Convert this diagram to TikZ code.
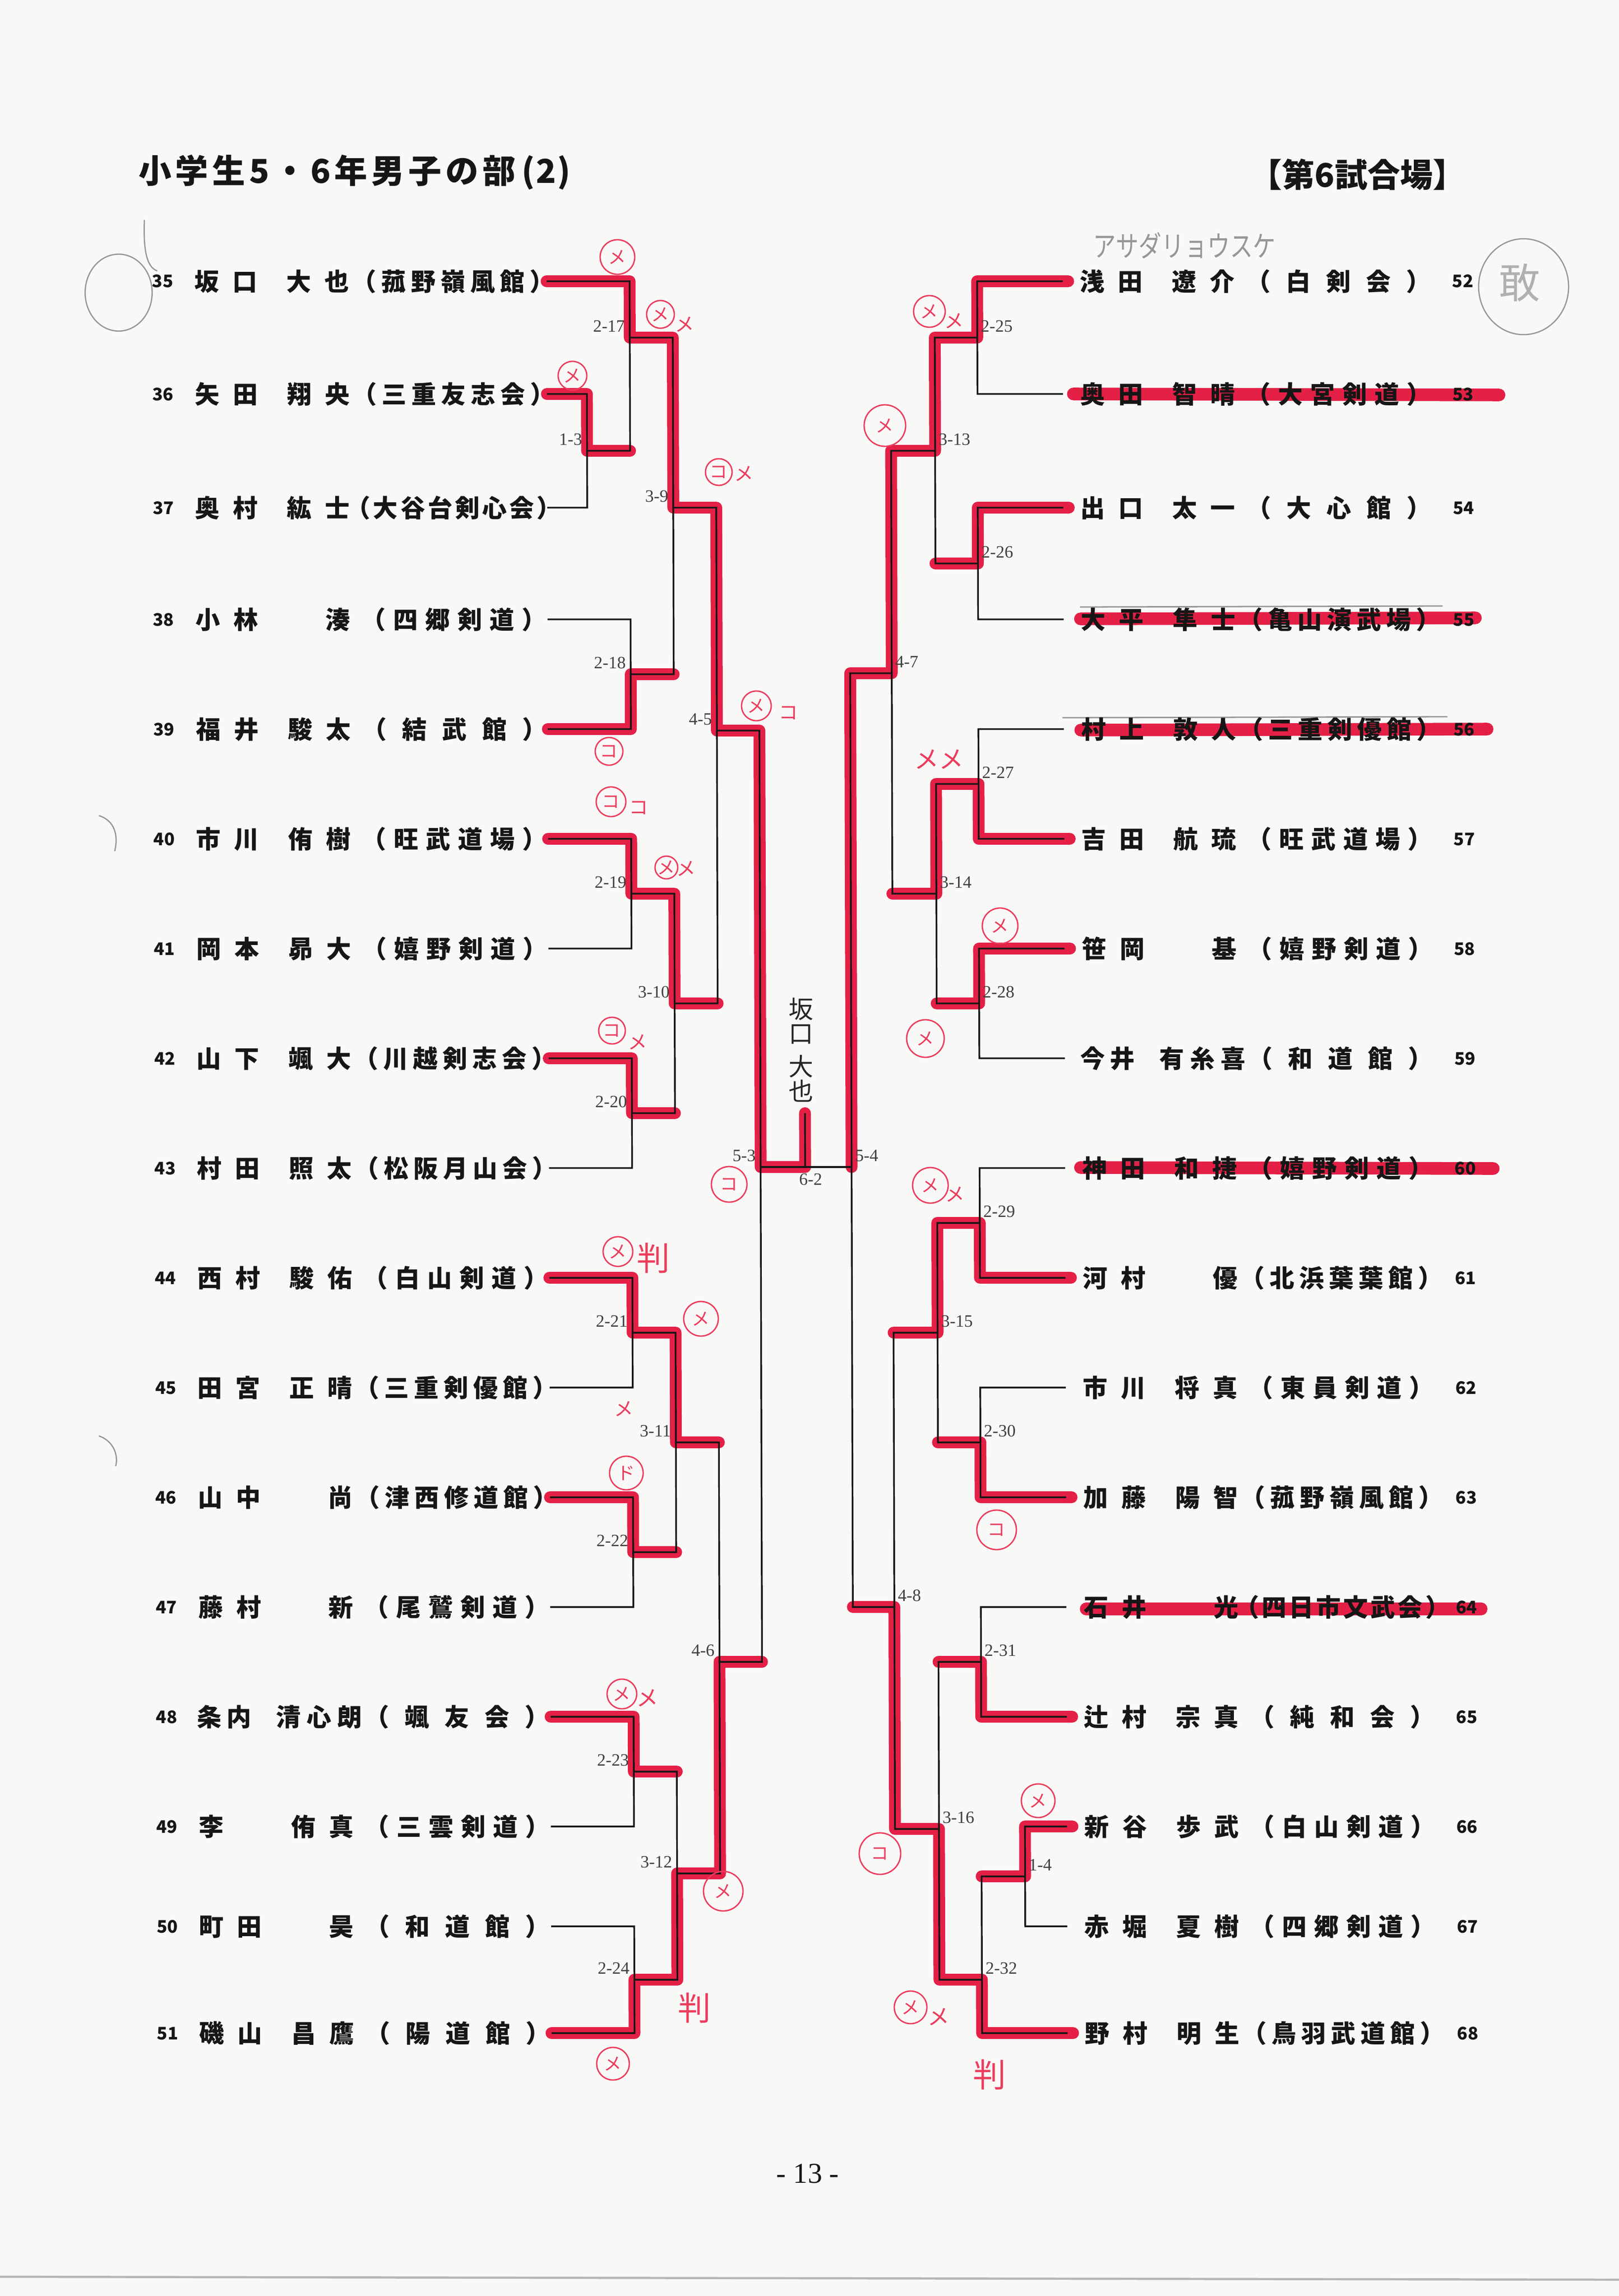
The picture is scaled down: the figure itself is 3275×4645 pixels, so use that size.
\documentclass[tikz,border=0pt]{standalone}
\usepackage{fontspec}
\setmainfont{Liberation Serif}
\newfontfamily\jp{Noto Sans CJK JP}
\newfontfamily\lser{Liberation Serif}
\usetikzlibrary{shapes.geometric}
\definecolor{paper}{RGB}{248,248,247}
\definecolor{marker}{RGB}{228,32,70}
\definecolor{pen}{RGB}{236,60,92}
\definecolor{pencil}{RGB}{150,150,150}
\definecolor{ink}{RGB}{22,22,22}
\newdimen\px \px=0.18pt
\def\spread#1{\spreadA#1\relax}
\def\spreadA#1{#1\spreadB}
\def\spreadB#1{\ifx\relax#1\else\hfil#1\expandafter\spreadB\fi}
\newcommand\jpat[2]{\makebox[0pt][l]{\hspace*{#1\px}#2}}
\newcommand\snA[1]{\jpat{-3}{\hbox to 127\px{\spread{#1}}}}
\newcommand\snB[1]{\jpat{-6}{\hbox to 110\px{\spread{#1}}}}
\newcommand\snC[1]{\jpat{-3}{#1}}
\newcommand\gnA[1]{\jpat{183}{\hbox to 127\px{\spread{#1}}}}
\newcommand\gnB[1]{\jpat{154}{\hbox to 174\px{\spread{#1}}}}
\newcommand\gnC[1]{\jpat{183}{\hbox to 127\px{\hfil#1}}}
\newcommand\clC[1]{\jpat{333}{\hbox to 374\px{\spread{（#1）}}}}
\newcommand\clD[1]{\jpat{332}{\hbox to 375\px{\spread{（#1）}}}}
\newcommand\clE[1]{\jpat{315}{\hbox to 410\px{\spread{（#1）}}}}
\newcommand\clF[1]{\jpat{302}{\hbox to 436\px{\spread{（#1）}}}}
\newcommand\namefont{\jp\bfseries\fontsize{9}{9}\selectfont}
\newcommand\numfont{\jp\bfseries\fontsize{6.3}{6.3}\selectfont}
\newcommand\lblfont{\lser\fontsize{6.3}{6.3}\selectfont}
\newcommand\entL[3]{\node[numt] (n#1) at (305,#2+13) {#1};
  \node[namet] (t#1) at (391,#2+19) {#3};}
\newcommand\entR[3]{\node[numt] (n#1) at (2935,#2+13) {#1};
  \node[namet] (t#1) at (2182,#2+19) {#3};}
\newcommand\circm[5]{\node[pc, minimum size={#4*0.18pt}] (#1) at (#2,#3) {#5};}
\newcommand\penm[5]{\node[pm, font={\jp\fontsize{#4}{#4}\selectfont}] (#1) at (#2,#3) {#5};}
\tikzset{
  numt/.style={anchor=base west, inner sep=0, text=ink, font=\numfont},
  namet/.style={anchor=base west, inner sep=0, text=ink, font=\namefont},
  br/.style={draw=ink, line width=0.62pt},
  mk/.style={draw=marker, line width=4.3pt, line cap=round, line join=round},
  strike/.style={draw=marker, line width=4.6pt, line cap=round},
  pencilline/.style={draw=pencil, line width=0.5pt, line cap=round},
  lblL/.style={anchor=base east, inner sep=0, text=black!75, font=\lblfont, xshift=-1.6pt, yshift=2pt},
  lblR/.style={anchor=base west, inner sep=0, text=black!75, font=\lblfont, xshift=1.1pt, yshift=2pt},
  pc/.style={circle, draw=pen, line width=0.5pt, text=pen, inner sep=0, font={\jp\fontsize{6.5}{6.5}\selectfont}},
  pm/.style={text=pen, inner sep=0},
}
\begin{document}
\begin{tikzpicture}[x=0.18pt,y=-0.18pt]
\useasboundingbox (0,0) rectangle (3275,4645);
\fill[paper] (0,0) rectangle (3275,4645);
\draw[pencil!70, line width=0.8pt] (0,4606) -- (3275,4612);

\begin{scope}[cm={1,0,-0.0028,1,(0,0)}]
% entry line ends
\foreach \n/\y in {35/569,36/797,37/1027,38/1253,39/1475,40/1697,41/1919,42/2141,43/2363,44/2585,45/2807,46/3029,47/3251,48/3473,49/3695,50/3897,51/4113}
  \coordinate (e\n) at (1104,\y);
\foreach \n/\y in {52/569,53/797,54/1027,55/1253,56/1475,57/1697,58/1919,59/2141,60/2363,61/2585,62/2807,63/3029,64/3251,65/3473,66/3695,67/3897,68/4113}
  \coordinate (e\n) at (2148,\y);
% match points
\coordinate (m13) at (1185,912);
\coordinate (m217) at (1272,683);
\coordinate (m218) at (1272,1364);
\coordinate (m39) at (1359,1027);
\coordinate (m219) at (1272,1808);
\coordinate (m220) at (1272,2252);
\coordinate (m310) at (1359,2030);
\coordinate (m45) at (1446,1478);
\coordinate (m221) at (1272,2696);
\coordinate (m222) at (1272,3140);
\coordinate (m311) at (1359,2918);
\coordinate (m223) at (1272,3584);
\coordinate (m224) at (1272,4005);
\coordinate (m312) at (1359,3790);
\coordinate (m46) at (1446,3362);
\coordinate (m53) at (1532,2361);
\coordinate (m54) at (1716,2361);
\coordinate (champ) at (1622,2252);
\coordinate (m225) at (1975,683);
\coordinate (m226) at (1975,1140);
\coordinate (m313) at (1889,912);
\coordinate (m227) at (1975,1586);
\coordinate (m228) at (1975,2030);
\coordinate (m314) at (1889,1808);
\coordinate (m47) at (1800,1362);
\coordinate (m229) at (1975,2474);
\coordinate (m230) at (1975,2918);
\coordinate (m315) at (1889,2696);
\coordinate (m231) at (1975,3362);
\coordinate (m14) at (2063,3796);
\coordinate (m232) at (1975,4005);
\coordinate (m316) at (1889,3700);
\coordinate (m48) at (1800,3251);

% red strikes over eliminated entries
\draw[strike] (2169,797) -- (3030,799);
\draw[strike] (2182,1252) -- (2981,1250);
\draw[strike] (2182,1477) -- (3004,1475);
\draw[strike] (2179,2362) -- (3014,2364);
\draw[strike] (2188,3255) -- (2987,3255);
\draw[pencilline] (2182,1228) -- (2914,1226);
\draw[pencilline] (2146,1452) -- (2923,1450);

% red winning paths
\draw[mk] (e35) -| (m217) -| (m39) -| (m45) -| (m53) -| (champ);
\draw[mk] (e36) -| (m13) -- (m13 -| m217);
\draw[mk] (e39) -| (m218) -- (m218 -| m39);
\draw[mk] (e40) -| (m219) -| (m310) -- (m310 -| m45);
\draw[mk] (e42) -| (m220) -- (m220 -| m310);
\draw[mk] (e44) -| (m221) -| (m311) -- (m311 -| m46);
\draw[mk] (e46) -| (m222) -- (m222 -| m311);
\draw[mk] (e48) -| (m223) -- (m223 -| m312);
\draw[mk] (e51) -| (m224) -| (m312) -| (m46) -- (m46 -| m53);
\draw[mk] ([xshift=2pt]e52) -| (m225) -| (m313) -| (m47) -| (m54);
\draw[mk] ([xshift=2pt]e54) -| (m226) -- (m226 -| m313);
\draw[mk] ([xshift=2pt]e57) -| (m227) -| (m314) -- (m314 -| m47);
\draw[mk] ([xshift=2pt]e58) -| (m228) -- (m228 -| m314);
\draw[mk] ([xshift=2pt]e61) -| (m229) -| (m315) -- (m315 -| m48);
\draw[mk] ([xshift=2pt]e63) -| (m230) -- (m230 -| m315);
\draw[mk] ([xshift=2pt]e65) -| (m231) -- (m231 -| m316);
\draw[mk] ([xshift=2pt]e66) -| (m14) -- (m14 -| m232);
\draw[mk] ([xshift=2pt]e68) -| (m232) -| (m316) -| (m48) -- (m48 -| m54);

% black bracket, left
\draw[br] (e35) -| (m217) |- (m13);
\draw[br] (e36) -| (m13) |- (e37);
\draw[br] (e38) -| (m218) |- (e39);
\draw[br] (m217) -| (m39) |- (m218);
\draw[br] (e40) -| (m219) |- (e41);
\draw[br] (e42) -| (m220) |- (e43);
\draw[br] (m219) -| (m310) |- (m220);
\draw[br] (m39) -| (m45) |- (m310);
\draw[br] (e44) -| (m221) |- (e45);
\draw[br] (e46) -| (m222) |- (e47);
\draw[br] (m221) -| (m311) |- (m222);
\draw[br] (e48) -| (m223) |- (e49);
\draw[br] (e50) -| (m224) |- (e51);
\draw[br] (m223) -| (m312) |- (m224);
\draw[br] (m311) -| (m46) |- (m312);
\draw[br] (m45) -| (m53) |- (m46);
\draw[br] (m53) -- (m54);
\draw[br] (champ) -- (champ |- m53);
% black bracket, right
\draw[br] (e52) -| (m225) |- (e53);
\draw[br] (e54) -| (m226) |- (e55);
\draw[br] (m225) -| (m313) |- (m226);
\draw[br] (e56) -| (m227) |- (e57);
\draw[br] (e58) -| (m228) |- (e59);
\draw[br] (m227) -| (m314) |- (m228);
\draw[br] (m313) -| (m47) |- (m314);
\draw[br] (e60) -| (m229) |- (e61);
\draw[br] (e62) -| (m230) |- (e63);
\draw[br] (m229) -| (m315) |- (m230);
\draw[br] (e64) -| (m231) |- (e65);
\draw[br] (e66) -| (m14) |- (e67);
\draw[br] (m14) -| (m232) |- (e68);
\draw[br] (m231) -| (m316) |- (m232);
\draw[br] (m315) -| (m48) |- (m316);
\draw[br] (m47) -| (m54) |- (m48);

% match labels
\node[lblL] (l217) at (m217) {2-17};
\node[lblL] (l13) at (m13) {1-3};
\node[lblL] (l218) at (m218) {2-18};
\node[lblL] (l39) at (m39) {3-9};
\node[lblL] (l219) at (m219) {2-19};
\node[lblL] (l220) at (m220) {2-20};
\node[lblL] (l310) at (m310) {3-10};
\node[lblL] (l45) at (m45) {4-5};
\node[lblL] (l221) at (m221) {2-21};
\node[lblL] (l222) at (m222) {2-22};
\node[lblL] (l311) at (m311) {3-11};
\node[lblL] (l223) at (m223) {2-23};
\node[lblL] (l224) at (m224) {2-24};
\node[lblL] (l312) at (m312) {3-12};
\node[lblL] (l46) at (m46) {4-6};
\node[lblL] (l53) at (m53) {5-3};
\node[lblR] (l225) at (m225) {2-25};
\node[lblR] (l226) at (m226) {2-26};
\node[lblR] (l313) at (m313) {3-13};
\node[lblR] (l227) at (m227) {2-27};
\node[lblR] (l228) at (m228) {2-28};
\node[lblR] (l314) at (m314) {3-14};
\node[lblR] (l47) at (m47) {4-7};
\node[lblR] (l229) at (m229) {2-29};
\node[lblR] (l230) at (m230) {2-30};
\node[lblR] (l315) at (m315) {3-15};
\node[lblR] (l231) at (m231) {2-31};
\node[lblR] (l14) at (m14) {1-4};
\node[lblR] (l232) at (m232) {2-32};
\node[lblR] (l316) at (m316) {3-16};
\node[lblR] (l48) at (m48) {4-8};
\node[lblR] (l54) at (m54) {5-4};
\node[anchor=base, inner sep=0, text=black!75, font=\lblfont] (l62) at ([xshift=2pt,yshift=-6.6pt]champ |- m53) {6-2};

% entries
\entL{35}{569}{\snA{坂口}\gnA{大也}\clE{菰野嶺風館}}
\entL{36}{797}{\snA{矢田}\gnA{翔央}\clE{三重友志会}}
\entL{37}{1027}{\snA{奥村}\gnA{紘士}\clF{大谷台剣心会}}
\entL{38}{1253}{\snA{小林}\gnC{湊}\clD{四郷剣道}}
\entL{39}{1475}{\snA{福井}\gnA{駿太}\clC{結武館}}
\entL{40}{1697}{\snA{市川}\gnA{侑樹}\clD{旺武道場}}
\entL{41}{1919}{\snA{岡本}\gnA{昴大}\clD{嬉野剣道}}
\entL{42}{2141}{\snA{山下}\gnA{颯大}\clE{川越剣志会}}
\entL{43}{2363}{\snA{村田}\gnA{照太}\clE{松阪月山会}}
\entL{44}{2585}{\snA{西村}\gnA{駿佑}\clD{白山剣道}}
\entL{45}{2807}{\snA{田宮}\gnA{正晴}\clE{三重剣優館}}
\entL{46}{3029}{\snA{山中}\gnC{尚}\clE{津西修道館}}
\entL{47}{3251}{\snA{藤村}\gnC{新}\clD{尾鷲剣道}}
\entL{48}{3473}{\snB{条内}\gnB{清心朗}\clC{颯友会}}
\entL{49}{3695}{\snC{李}\gnA{侑真}\clD{三雲剣道}}
\entL{50}{3897}{\snA{町田}\gnC{昊}\clC{和道館}}
\entL{51}{4113}{\snA{磯山}\gnA{昌鷹}\clC{陽道館}}
\entR{52}{569}{\snA{浅田}\gnA{遼介}\clC{白剣会}}
\entR{53}{797}{\snA{奥田}\gnA{智晴}\clD{大宮剣道}}
\entR{54}{1027}{\snA{出口}\gnA{太一}\clC{大心館}}
\entR{55}{1253}{\snA{大平}\gnA{隼士}\clE{亀山演武場}}
\entR{56}{1475}{\snA{村上}\gnA{敦人}\clE{三重剣優館}}
\entR{57}{1697}{\snA{吉田}\gnA{航琉}\clD{旺武道場}}
\entR{58}{1919}{\snA{笹岡}\gnC{基}\clD{嬉野剣道}}
\entR{59}{2141}{\snB{今井}\gnB{有糸喜}\clC{和道館}}
\entR{60}{2363}{\snA{神田}\gnA{和捷}\clD{嬉野剣道}}
\entR{61}{2585}{\snA{河村}\gnC{優}\clE{北浜葉葉館}}
\entR{62}{2807}{\snA{市川}\gnA{将真}\clD{東員剣道}}
\entR{63}{3029}{\snA{加藤}\gnA{陽智}\clE{菰野嶺風館}}
\entR{64}{3251}{\snA{石井}\gnC{光}\clF{四日市文武会}}
\entR{65}{3473}{\snA{辻村}\gnA{宗真}\clC{純和会}}
\entR{66}{3695}{\snA{新谷}\gnA{歩武}\clD{白山剣道}}
\entR{67}{3897}{\snA{赤堀}\gnA{夏樹}\clD{四郷剣道}}
\entR{68}{4113}{\snA{野村}\gnA{明生}\clE{鳥羽武道館}}
\end{scope}

% headings
\node[anchor=base west, inner sep=0, text=ink, font={\jp\bfseries\fontsize{12}{12}\selectfont}] (title) at (279,371)
  {\hbox to 763\px{\spread{小学生5・6年男子の部}}\hspace*{12\px}\hbox to 99\px{\spread{(2)}}};
\node[anchor=base, inner sep=0, text=ink, font={\jp\bfseries\fontsize{11.9}{11.9}\selectfont}] (hdr) at (2746,379) {【第6試合場】};
\node[anchor=base, inner sep=0, text=ink, font={\lser\fontsize{10.5}{10.5}\selectfont}] (page) at (1634,4416) {- 13 -};

% handwritten winner name (centre)
\node[inner sep=0, text=black!85, font={\jp\fontsize{9}{9}\selectfont}] (hw1) at (1620,2042) {坂};
\node[inner sep=0, text=black!85, font={\jp\fontsize{9}{9}\selectfont}] (hw2) at (1620,2092) {口};
\node[inner sep=0, text=black!85, font={\jp\fontsize{9}{9}\selectfont}] (hw3) at (1620,2157) {大};
\node[inner sep=0, text=black!85, font={\jp\fontsize{9}{9}\selectfont}] (hw4) at (1620,2207) {也};

% pencil notes
\node[inner sep=0, text=pencil, font={\jp\fontsize{10.5}{10.5}\selectfont}] (kana) at (2396,497) {\scalebox{0.79}[1]{アサダリョウスケ}};
\node[ellipse, draw=pencil, line width=0.45pt, minimum width={182*0.18pt}, minimum height={194*0.18pt}] (kanc) at (3082,580) {};
\node[inner sep=0, text=pencil!75, font={\jp\fontsize{15}{15}\selectfont}] (kan) at (3074,572) {敢};
\draw[pencil, line width=0.45pt] (240,592) ellipse [x radius=12.2pt, y radius=14pt];
\draw[pencil, line width=0.45pt] (292,445) .. controls (290,500) and (295,540) .. (318,548);
\draw[pencil, line width=0.45pt] (200,1650) .. controls (232,1660) and (240,1690) .. (232,1722);
\draw[pencil, line width=0.45pt] (200,2905) .. controls (230,2915) and (240,2945) .. (234,2966);

% red pen marks, left
\circm{a1}{1249}{520}{70}{メ}
\circm{a2}{1336}{636}{56}{メ} \penm{a2b}{1385}{656}{7}{メ}
\circm{a3}{1158}{760}{58}{メ}
\circm{a4}{1454}{955}{54}{コ} \penm{a4b}{1505}{958}{7}{メ}
\circm{a5}{1232}{1520}{56}{コ}
\circm{a6}{1530}{1428}{60}{メ} \penm{a6b}{1595}{1442}{7}{コ}
\circm{a7}{1236}{1622}{60}{コ} \penm{a7b}{1292}{1634}{7}{コ}
\circm{a8}{1348}{1755}{46}{メ} \penm{a8b}{1388}{1757}{7}{メ}
\circm{a9}{1238}{2085}{54}{コ} \penm{a9b}{1290}{2108}{7}{メ}
\circm{a10}{1475}{2396}{72}{コ}
\circm{a11}{1250}{2532}{60}{メ} \penm{a11b}{1322}{2545}{12}{判}
\circm{a12}{1418}{2668}{70}{メ}
\penm{a13}{1262}{2850}{7}{メ}
\circm{a14}{1267}{2980}{68}{ド}
\circm{a15}{1258}{3427}{60}{メ} \penm{a15b}{1310}{3435}{8}{メ}
\circm{a16}{1463}{3826}{80}{メ}
\penm{a17}{1405}{4062}{12}{判}
\circm{a18}{1240}{4175}{66}{メ}
% red pen marks, right
\circm{b1}{1880}{630}{64}{メ} \penm{b1b}{1930}{649}{7}{メ}
\circm{b2}{1790}{861}{84}{メ}
\penm{b3}{1899}{1536}{9}{メメ}
\circm{b4}{2023}{1873}{72}{メ}
\circm{b5}{1872}{2101}{76}{メ}
\circm{b6}{1882}{2398}{72}{メ} \penm{b6b}{1932}{2416}{7}{メ}
\circm{b7}{2016}{3095}{80}{コ}
\circm{b8}{1780}{3750}{84}{コ}
\circm{b9}{2100}{3643}{68}{メ}
\circm{b10}{1842}{4061}{66}{メ} \penm{b10b}{1899}{4080}{8}{メ}
\penm{b11}{2002}{4197}{12}{判}
\end{tikzpicture}
\end{document}
